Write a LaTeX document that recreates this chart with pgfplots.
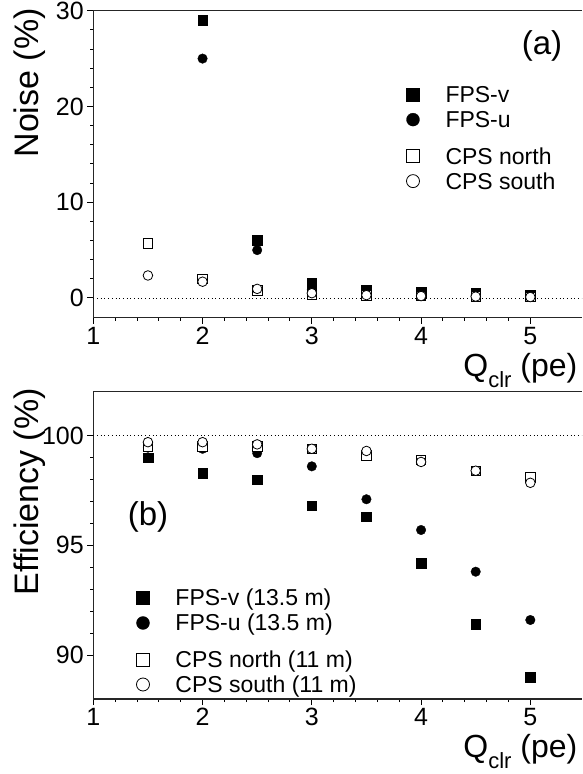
\documentclass[border=0pt]{standalone}
\usepackage{fontspec}
\setmainfont{Liberation Sans}
\usepackage{pgfplots}
\pgfplotsset{compat=1.18}
\pgfplotsset{
  panel/.style={
    scale only axis, width=488.7pt, xmin=1, xmax=5.473,
    axis x line*=box, axis y line*=left,
    axis line style={-, line width=1.2pt, black!85},
    tick pos=left, tick align=outside,
    major tick length=6pt, minor tick length=3pt,
    every tick/.style={black, line width=1pt},
    xtick={1,2,3,4,5}, minor x tick num=4, minor y tick num=4,
    tick label style={font=\fontsize{25}{30}\selectfont},
    /pgf/number format/assume math mode=true,
    xlabel={Q\raisebox{-11pt}{\fontsize{22}{22}\selectfont clr} (pe)},
    xlabel style={anchor=base west, font=\fontsize{32}{38}\selectfont, inner sep=0pt},
    ylabel style={anchor=center, font=\fontsize{34}{40}\selectfont, inner sep=0pt},
    legend image code/.code={\draw[##1, mark size=6.5pt] plot coordinates {(0pt,8pt)};},
    legend style={font=\fontsize{23}{27}\selectfont, draw=none, fill=none,
      inner sep=0pt, outer sep=0pt, row sep=3pt, column sep=26pt,
      nodes={inner sep=0pt, text height=17pt, text depth=5pt},
      cells={anchor=base west}, anchor=north west},
  },
  fv/.style={only marks, mark=square*, mark size=4.8pt, mark options={fill=black, draw=black, line width=0.3pt}},
  fu/.style={only marks, mark=*, mark size=4.8pt, mark options={fill=black, draw=black, line width=0.3pt}},
  cn/.style={only marks, mark=square*, mark size=4.8pt, mark options={fill=white, draw=black, line width=0.8pt}},
  cs/.style={only marks, mark=*, mark size=4.8pt, mark options={fill=white, draw=black, line width=0.8pt}},
  refline/.style={black, line width=0.9pt, dash pattern=on 0.9pt off 2.8pt, forget plot},
}
\begin{document}
\begin{tikzpicture}
\useasboundingbox (0,0) rectangle (582pt,-774pt);
% ---------- (a) Noise ----------
\begin{axis}[panel,
  at={(93.3pt,-10.7pt)}, anchor=north west, height=307pt,
  ymin=-2.06, ymax=30, ytick={0,10,20,30},
  ylabel={Noise (\%)},
  ylabel style={at={(axis description cs:-0.1295,0.765)}},
  xlabel style={at={(axis description cs:0.757,-0.193)}},
  legend style={at={(axis description cs:0.6409,0.756)}},
]
\addplot[refline] coordinates {(1,0) (5.473,0)};
\addplot[fv] coordinates {(2,29.0) (2.5,6.05) (3,1.55) (3.5,0.8) (4,0.6) (4.5,0.5) (5,0.35)};
\addlegendentry{FPS-v}
\addplot[fu] coordinates {(2,25.0) (2.5,5.0) (3,0.9) (3.5,0.5) (4,0.35) (4.5,0.3) (5,0.2)};
\addlegendentry[text depth=16.5pt]{FPS-u}
\addplot[cn] coordinates {(1.5,5.7) (2,2.0) (2.5,0.8) (3,0.35) (3.5,0.25) (4,0.2) (4.5,0.15) (5,0.1)};
\addlegendentry{CPS north}
\addplot[cs] coordinates {(1.5,2.35) (2,1.7) (2.5,0.95) (3,0.5) (3.5,0.3) (4,0.2) (4.5,0.15) (5,0.1)};
\addlegendentry{CPS south}
\node[font=\fontsize{33}{40}\selectfont, inner sep=0pt] at (axis description cs:0.918,0.885) {(a)};
\end{axis}
% ---------- (b) Efficiency ----------
\begin{axis}[panel,
  at={(93.3pt,-391.7pt)}, anchor=north west, height=307.3pt,
  ymin=88, ymax=102, ytick={90,95,100},
  ylabel={Efficiency (\%)},
  ylabel style={at={(axis description cs:-0.1295,0.674)}},
  xlabel style={at={(axis description cs:0.757,-0.189)}},
  legend style={at={(axis description cs:0.0884,0.358)}},
]
\addplot[refline] coordinates {(1,100) (5.473,100)};
\addplot[fv] coordinates {(1.5,99.0) (2,98.3) (2.5,98.0) (3,96.8) (3.5,96.3) (4,94.2) (4.5,91.4) (5,89.0)};
\addlegendentry{FPS-v (13.5 m)}
\addplot[fu] coordinates {(1.5,99.45) (2,99.4) (2.5,99.2) (3,98.6) (3.5,97.1) (4,95.7) (4.5,93.8) (5,91.6)};
\addlegendentry[text depth=16.5pt]{FPS-u (13.5 m)}
\addplot[cn] coordinates {(1.5,99.5) (2,99.5) (2.5,99.5) (3,99.4) (3.5,99.1) (4,98.9) (4.5,98.4) (5,98.1)};
\addlegendentry{CPS north (11 m)}
\addplot[cs] coordinates {(1.5,99.7) (2,99.7) (2.5,99.6) (3,99.4) (3.5,99.3) (4,98.8) (4.5,98.4) (5,97.85)};
\addlegendentry{CPS south (11 m)}
\node[font=\fontsize{33}{40}\selectfont, inner sep=0pt] at (axis description cs:0.112,0.591) {(b)};
\end{axis}
\end{tikzpicture}
\end{document}
